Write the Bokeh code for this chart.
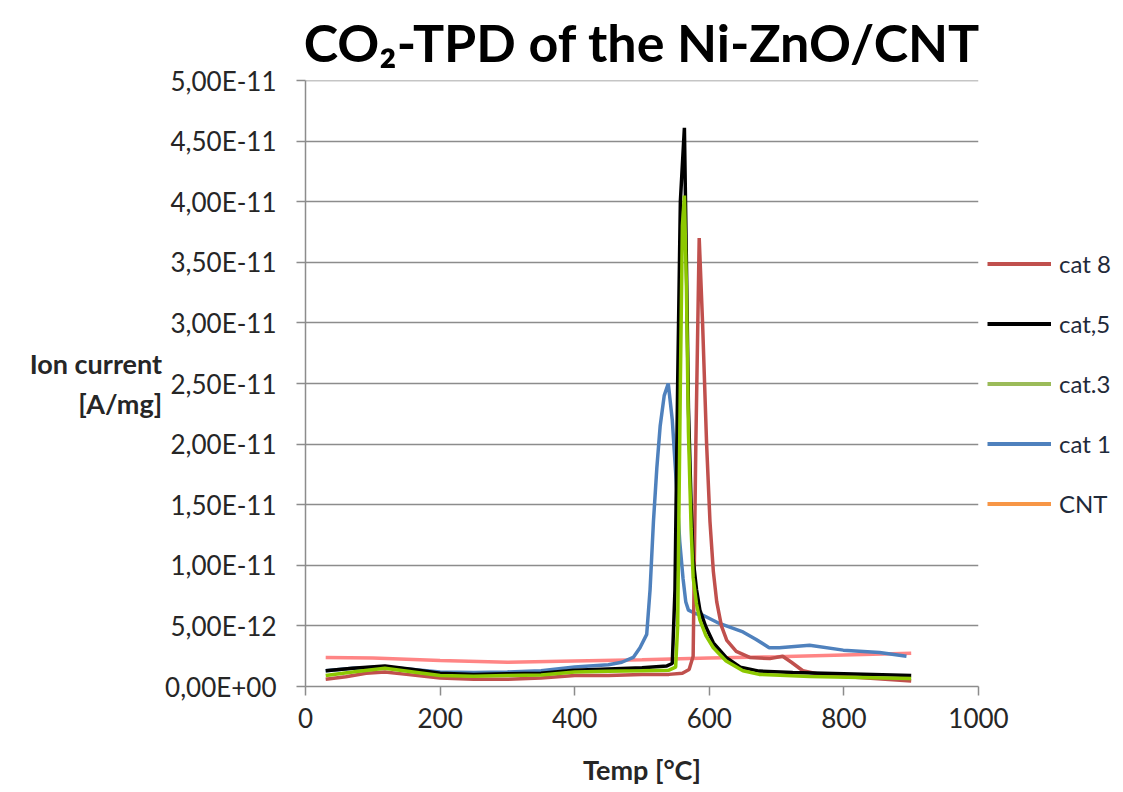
import numpy as np
from bokeh.plotting import figure
from bokeh.models import (Range1d, FixedTicker, CustomJSTickFormatter, Legend, LegendItem)
from bokeh.embed import file_html
from bokeh.resources import INLINE

SCALE = 1e-12  # values below are read in units of 1e-12 A/mg

cat8_t = [30, 60, 90, 118, 150, 200, 250, 300, 350, 400, 450, 500, 540, 560, 570, 576, 580, 585, 590,
          596, 601, 606, 611, 618, 626, 640, 660, 690, 709, 722, 739, 774, 823, 900]
cat8_v = [0.6, 0.8, 1.1, 1.2, 1.0, 0.7, 0.6, 0.6, 0.7, 0.9, 0.9, 1.0, 1.0, 1.1, 1.4, 2.5, 20, 37, 30,
          20, 13.6, 9.5, 7.0, 5.0, 3.8, 2.9, 2.4, 2.3, 2.5, 2.0, 1.3, 0.9, 0.75, 0.45]

cat5_t = [30, 70, 118, 160, 200, 250, 300, 350, 400, 450, 500, 537, 545, 549, 553, 557, 563, 566, 569,
          573, 576, 581, 586, 595, 606, 625, 646, 674, 724, 800, 900]
cat5_v = [1.3, 1.5, 1.7, 1.4, 1.1, 1.0, 1.05, 1.1, 1.35, 1.45, 1.55, 1.7, 1.9, 8, 25, 40, 46.1, 35, 23,
          15, 10.5, 8.0, 6.3, 4.9, 3.6, 2.4, 1.6, 1.27, 1.15, 1.05, 0.9]

cat3_t = [30, 70, 118, 160, 200, 250, 300, 350, 400, 450, 500, 540, 550, 553, 557, 560, 563, 566, 569,
          573, 576, 581, 586, 595, 606, 625, 650, 674, 749, 900]
cat3_v = [0.9, 1.2, 1.5, 1.2, 0.9, 0.85, 0.9, 0.95, 1.2, 1.25, 1.3, 1.35, 1.6, 5, 25, 38, 40.5, 33, 21,
          13, 9, 6.8, 5.5, 4.2, 3.2, 2.1, 1.3, 1.0, 0.83, 0.65]

cat1_t = [30, 70, 118, 160, 200, 250, 300, 350, 400, 450, 470, 487, 497, 507, 512, 517, 522, 527, 533,
          539, 545, 551, 556, 561, 565, 569, 580, 590, 615, 650, 669, 689, 704, 749, 799, 853, 893]
cat1_v = [1.3, 1.5, 1.6, 1.4, 1.2, 1.15, 1.2, 1.3, 1.6, 1.8, 2.0, 2.4, 3.2, 4.3, 8, 13.6, 18, 21.5, 24,
          25.0, 22, 16.8, 12, 8.9, 7, 6.3, 6.0, 5.9, 5.2, 4.5, 3.9, 3.2, 3.2, 3.4, 3.0, 2.8, 2.5]

cnt_t = [30, 100, 200, 300, 400, 500, 600, 700, 800, 900]
cnt_v = [2.4, 2.35, 2.15, 2.0, 2.1, 2.2, 2.35, 2.45, 2.6, 2.75]

x_ticks = [0, 200, 400, 600, 800, 1000]
y_ticks = [i * 5e-12 for i in range(11)]

legend_labels = ["cat 8", "cat,5", "cat.3", "cat 1", "CNT"]

FONT = "Lato"

p = figure(frame_width=673, frame_height=606, output_backend="svg", toolbar_location=None,
           x_range=Range1d(0, 1000), y_range=Range1d(0, 5e-11),
           min_border_left=305, min_border_right=145, min_border_top=80, min_border_bottom=106)
p.outline_line_color = None
p.background_fill_color = "white"
p.border_fill_color = "white"

p.title.text = "CO\u2082-TPD of the Ni-ZnO/CNT"
p.title.align = "center"
p.title.text_font = FONT
p.title.text_font_style = "bold"
p.title.text_font_size = "52px"
p.title.text_color = "#000000"
p.title.standoff = 16

# axes
p.xaxis.ticker = FixedTicker(ticks=x_ticks)
p.yaxis.ticker = FixedTicker(ticks=y_ticks)
p.yaxis.formatter = CustomJSTickFormatter(code="""
let s = tick.toExponential(2).replace('.', ',');
let parts = s.split('e');
let sign = parts[1][0];
let d = parts[1].slice(1);
if (d.length < 2) d = '0' + d;
return parts[0] + 'E' + sign + d;
""")
for ax in (p.xaxis[0], p.yaxis[0]):
    ax.axis_line_color = "#8c8c8c"
    ax.axis_line_width = 1.5
    ax.major_tick_line_color = "#8c8c8c"
    ax.major_tick_line_width = 1.5
    ax.major_tick_out = 9
    ax.major_tick_in = 0
    ax.minor_tick_line_color = None
    ax.major_label_text_font = FONT
    ax.major_label_text_font_size = "26px"
    ax.major_label_text_color = "#262626"
    ax.axis_label_text_font = FONT
    ax.axis_label_text_font_style = "bold"
    ax.axis_label_text_font_size = "27px"
    ax.axis_label_text_color = "#262626"
p.yaxis.major_label_standoff = 20
p.xaxis.major_label_standoff = 12
p.xaxis.axis_label = "Temp [\u00b0C]"
p.xaxis.axis_label_standoff = 22
p.yaxis.axis_label = "Ion current\n[A/mg]"
p.yaxis.axis_label_orientation = "horizontal"
p.yaxis.axis_label_text_align = "center"
p.yaxis.axis_label_standoff = 0

p.xgrid.grid_line_color = None
p.ygrid.grid_line_color = "#8c8c8c"
p.ygrid.grid_line_width = 1.5

# series
lw = 3.5
p.line(cnt_t, [v * SCALE for v in cnt_v], line_color="#FF8585", line_width=lw)
p.line(cat1_t, [v * SCALE for v in cat1_v], line_color="#4F81BD", line_width=lw)
p.line(cat8_t, [v * SCALE for v in cat8_v], line_color="#C0504D", line_width=lw)
p.line(cat5_t, [v * SCALE for v in cat5_v], line_color="#000000", line_width=lw)
p.line(cat3_t, [v * SCALE for v in cat3_v], line_color="#8CC800", line_width=lw)

# legend (separate swatch glyphs to match the legend colours)
legend_colors = ["#C0504D", "#000000", "#9BBB59", "#4F81BD", "#F79646"]
items = []
for lab, col in zip(legend_labels, legend_colors):
    r = p.line(x=[np.nan], y=[np.nan], line_color=col, line_width=4)
    items.append(LegendItem(label=lab, renderers=[r]))
legend = Legend(items=items, location="center_left", glyph_width=64, glyph_height=22, spacing=31,
                padding=0, margin=9, label_standoff=8, border_line_color=None,
                background_fill_alpha=0, label_text_font=FONT, label_text_font_size="24px",
                label_text_color="#1F2A3A")
p.add_layout(legend, "right")

open("out.html", "w").write(file_html(p, INLINE))
